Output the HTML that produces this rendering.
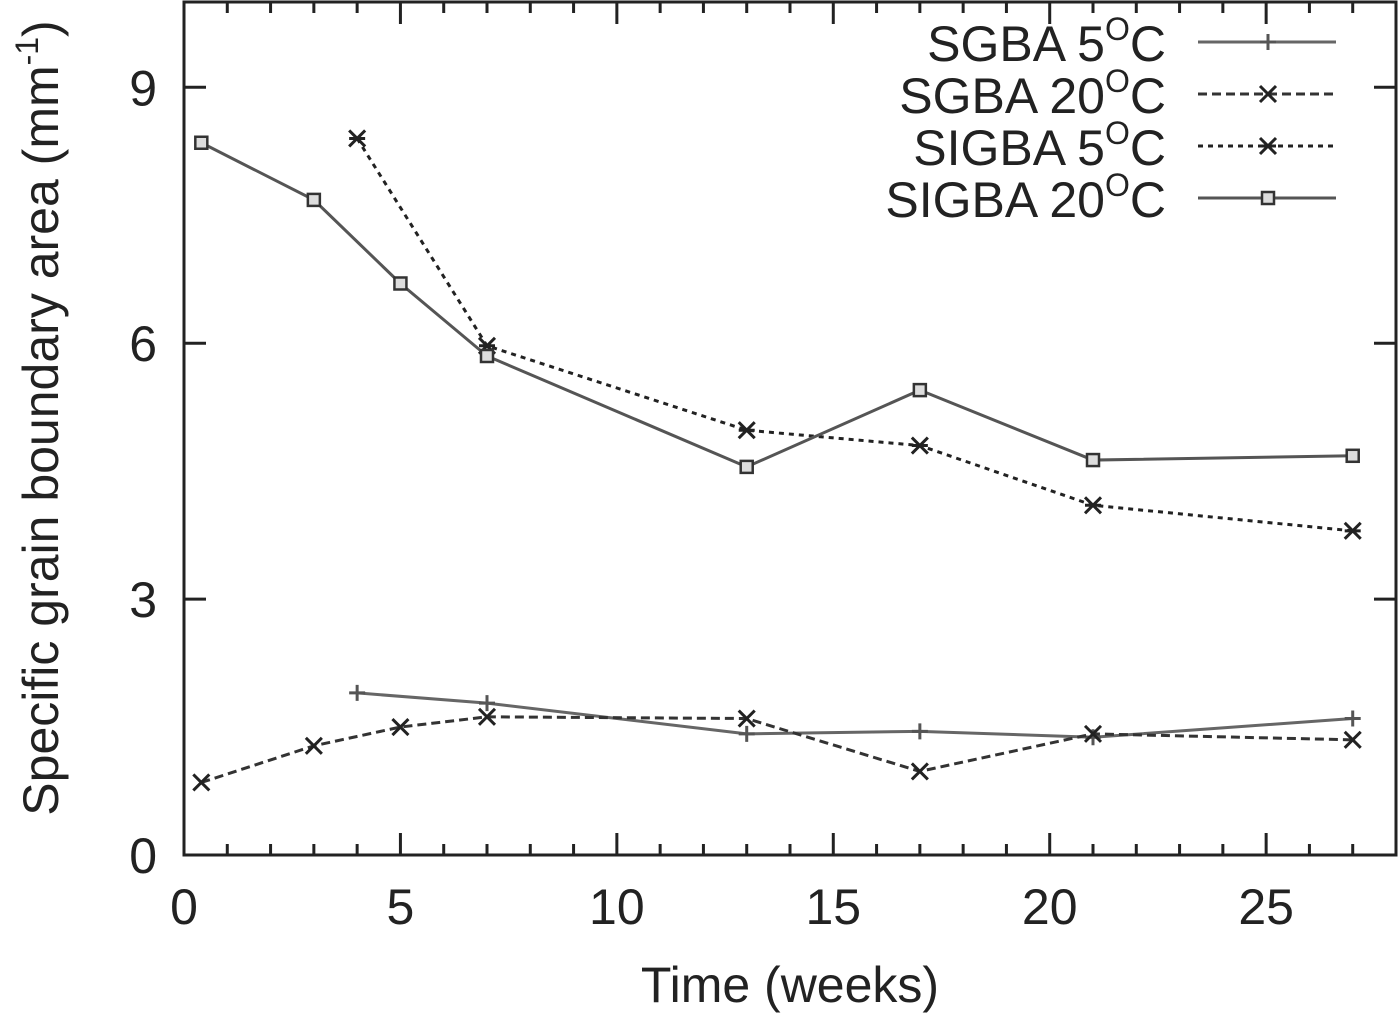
<!DOCTYPE html>
<html><head><meta charset="utf-8"><style>
html,body{margin:0;padding:0;background:#fff;}
svg{display:block;font-family:"Liberation Sans",sans-serif;}
</style></head><body>
<svg id="chart" width="1400" height="1013"></svg>
<script>
const xTicks=[0,5,10,15,20,25];
const yTicks=[0,3,6,9];
const seriesNames=["SGBA 5","SGBA 20","SIGBA 5","SIGBA 20"];
const sgba5X=[4,7,13,17,21,27];
const sgba5Y=[1.9,1.78,1.42,1.45,1.38,1.6];
const sgba20X=[0.4,3,5,7,13,17,21,27];
const sgba20Y=[0.85,1.28,1.5,1.62,1.6,0.98,1.42,1.35];
const sigba5X=[4,7,13,17,21,27];
const sigba5Y=[8.4,5.97,4.98,4.8,4.1,3.8];
const sigba20X=[0.4,3,5,7,13,17,21,27];
const sigba20Y=[8.35,7.68,6.7,5.85,4.55,5.45,4.63,4.68];

const L=184,R=1396,T=2,B=855,XMAX=28,YMAX=10;
const sx=v=>L+v/XMAX*(R-L);
const sy=v=>B-v/YMAX*(B-T);
const svg=document.getElementById('chart');
const NS='http://www.w3.org/2000/svg';
function mk(tag,attrs,parent){const e=document.createElementNS(NS,tag);for(const k in attrs)e.setAttribute(k,attrs[k]);(parent||svg).appendChild(e);return e;}

const frame=mk('rect',{x:L,y:T,width:R-L,height:B-T,fill:'none',stroke:'#222','stroke-width':3});


for(let i=1;i<XMAX;i++){
  const major=i%5===0,len=major?22:11;
  const t1=mk('line',{x1:sx(i),x2:sx(i),y1:B,y2:B-len,stroke:'#222','stroke-width':3});
  
  
  const t2=mk('line',{x1:sx(i),x2:sx(i),y1:T,y2:T+len,stroke:'#222','stroke-width':3});
  
  
}
xTicks.forEach(v=>{
  const t=mk('text',{x:sx(v),y:924,'text-anchor':'middle','font-size':50,fill:'#222'});
  t.textContent=v;
  
  
});
yTicks.forEach(v=>{
  if(v>0){
    const a=mk('line',{x1:L,x2:L+22,y1:sy(v),y2:sy(v),stroke:'#222','stroke-width':3});
    
    
    const b=mk('line',{x1:R,x2:R-22,y1:sy(v),y2:sy(v),stroke:'#222','stroke-width':3});
    
    
  }
  const t=mk('text',{x:157,y:sy(v)+18,'text-anchor':'end','font-size':50,fill:'#222'});
  t.textContent=v;
  
  
});
const xt=mk('text',{x:790,y:1002,'text-anchor':'middle','font-size':50,fill:'#222'});
xt.textContent='Time (weeks)';


const yt=mk('text',{transform:'translate(58,418) rotate(-90)','text-anchor':'middle','font-size':50,fill:'#222'});
yt.innerHTML='Specific grain boundary area (mm<tspan dy="-20" font-size="32">-1</tspan><tspan dy="20">)</tspan>';



function marker(type,x,y,g){
  const s=8,st={stroke:'#222','stroke-width':3,fill:'none'};
  if(type==='plus'){mk('path',Object.assign({d:`M${x-s} ${y}H${x+s}M${x} ${y-s}V${y+s}`},st,{stroke:'#555'}),g);}
  else if(type==='x'){mk('path',Object.assign({d:`M${x-s} ${y-s}L${x+s} ${y+s}M${x-s} ${y+s}L${x+s} ${y-s}`},st),g);}
  else if(type==='star'){mk('path',Object.assign({d:`M${x-s} ${y-s}L${x+s} ${y+s}M${x-s} ${y+s}L${x+s} ${y-s}M${x-s} ${y}H${x+s}`},st),g);}
  else {mk('rect',{x:x-6,y:y-6,width:12,height:12,fill:'#ddd',stroke:'#333','stroke-width':2.5},g);}
}
const series=[
 {name:'sgba-5',xs:sgba5X,ys:sgba5Y,dash:'',stroke:'#666',m:'plus',label:'SGBA 5'},
 {name:'sgba-20',xs:sgba20X,ys:sgba20Y,dash:'9,5',stroke:'#333',m:'x',label:'SGBA 20'},
 {name:'sigba-5',xs:sigba5X,ys:sigba5Y,dash:'5,5',stroke:'#222',m:'star',label:'SIGBA 5'},
 {name:'sigba-20',xs:sigba20X,ys:sigba20Y,dash:'',stroke:'#555',m:'box',label:'SIGBA 20'}
];
series.forEach((s,i)=>{
  const g=mk('g',{});
  
  
  const pts=s.xs.map((x,j)=>sx(x)+','+sy(s.ys[j])).join(' ');
  mk('polyline',{points:pts,fill:'none',stroke:s.stroke,'stroke-width':3,'stroke-dasharray':s.dash},g);
  s.xs.forEach((x,j)=>marker(s.m,sx(x),sy(s.ys[j]),g));
  const ly=42+i*52;
  const lg=mk('g',{});
  
  
  const lt=mk('text',{x:1166,y:ly+19,'text-anchor':'end','font-size':50,fill:'#222'},lg);
  lt.innerHTML=s.label+'<tspan dy="-21" font-size="32">O</tspan><tspan dy="21">C</tspan>';
  mk('line',{x1:1198,x2:1336,y1:ly,y2:ly,stroke:s.stroke,'stroke-width':3,'stroke-dasharray':s.dash},lg);
  marker(s.m,1268,ly,lg);
});
</script>
</body></html>
